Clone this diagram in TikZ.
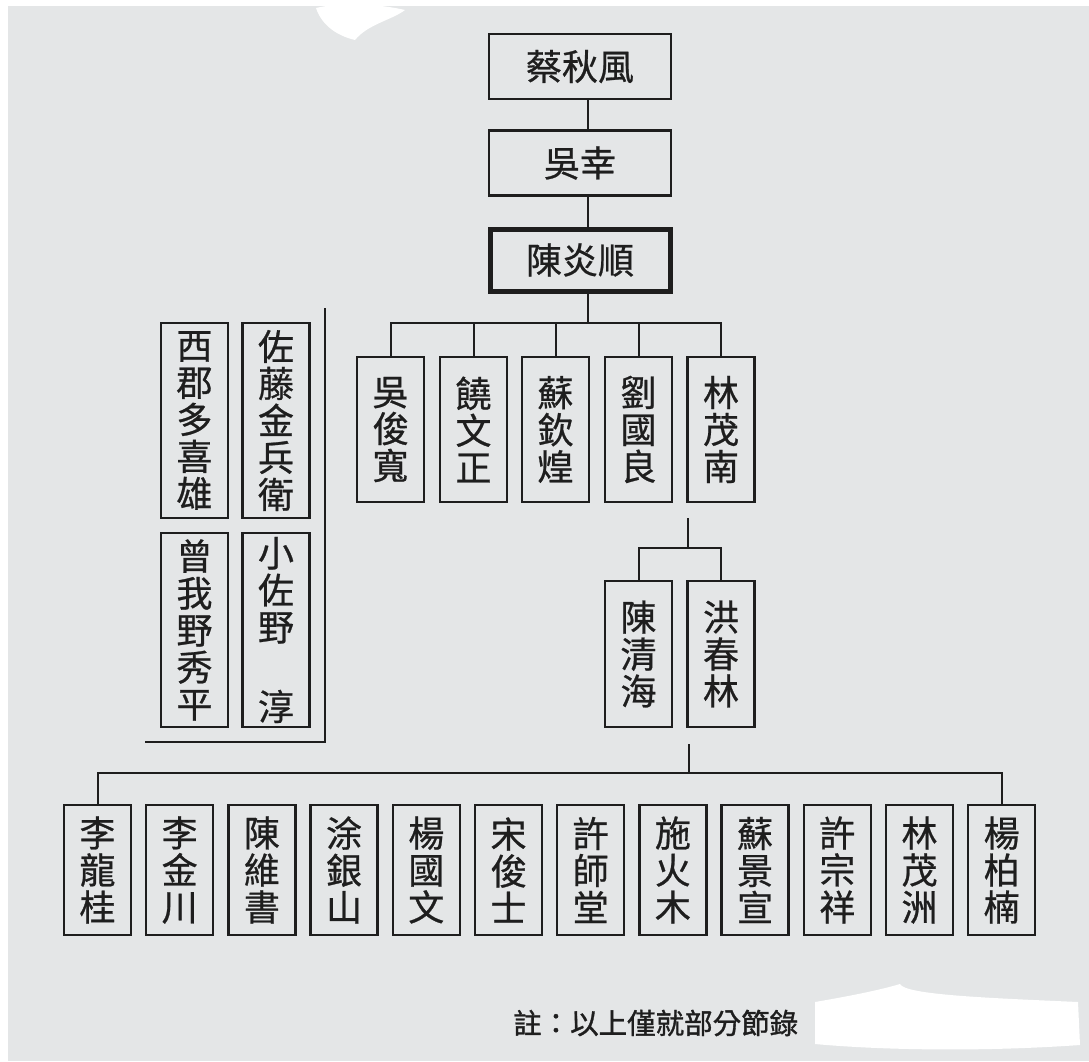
\documentclass[tikz,border=0pt]{standalone}
\usepackage{fontspec}
\newfontfamily\cjk[FakeBold=0.7]{Noto Sans CJK TC}
\newfontfamily\cjknote[FakeBold=1.2]{Noto Sans CJK TC}
\usetikzlibrary{calc}
\definecolor{bg}{RGB}{228,230,231}
\definecolor{ink}{RGB}{30,30,30}
\tikzset{
  box/.style={draw=ink, line width=2.4pt, inner sep=0pt, text=ink, align=center,
    font=\cjk\fontsize{36}{37}\selectfont},
  hbox/.style={box, minimum width=182pt, minimum height=65pt},
  vbox/.style={box, minimum width=67pt},
  link/.style={draw=ink, line width=2pt},
}
\begin{document}
\begin{tikzpicture}[x=1pt,y=-1pt]
\useasboundingbox (0,0) rectangle (1089,1061);
\fill[bg] (0,0) rectangle (1089,1061);
% paper blemishes
\fill[white] (0,0) rectangle (1089,6);
\fill[white] (0,0) rectangle (8,1061);
\fill[white] (316,8) .. controls (340,2) and (380,4) .. (405,10) .. controls (392,20) and (368,24) .. (355,40) .. controls (338,36) and (322,26) .. (316,8) -- cycle;
\fill[white] (815,1002) .. controls (850,996) and (880,990) .. (900,984) .. controls (905,995) and (990,998) .. (1078,1002) -- (1080,1045) .. controls (980,1052) and (880,1050) .. (815,1044) -- cycle;

% top chain
\node[hbox] (cqf) at (580,66.5) {蔡秋風};
\node[hbox] (wx) at (580,163) {吳幸};
\node[hbox, line width=5pt, minimum width=180pt, minimum height=62pt] (cys) at (580,260) {陳炎順};
\coordinate (xa) at (588,0);
\draw[link] (cqf.south -| xa) -- (wx.north -| xa);
\draw[link] (wx.south -| xa) -- (cys.north -| xa);

% second row
\node[vbox, minimum height=145pt] (w1) at (390.5,429.5) {吳\\俊\\寬};
\node[vbox, minimum height=145pt] (w2) at (473.5,429.5) {饒\\文\\正};
\node[vbox, minimum height=145pt] (w3) at (555.5,429.5) {蘇\\欽\\煌};
\node[vbox, minimum height=145pt] (w4) at (638.5,429.5) {劉\\國\\良};
\node[vbox, minimum height=145pt] (lmn) at (721,429.5) {林\\茂\\南};
\coordinate (j0) at (588,323);
\draw[link] (cys.south -| xa) -- (j0);
\draw[link] (w1.north) |- (j0) -| (lmn.north);
\draw[link] (w2.north) -- (w2.north |- j0);
\draw[link] (w3.north) -- (w3.north |- j0);
\draw[link] (w4.north) -- (w4.north |- j0);

% Japanese group
\node[vbox, minimum height=195pt] (jp1) at (194.5,420.5) {西\\郡\\多\\喜\\雄};
\node[vbox, minimum height=195pt] (jp2) at (276,420.5) {佐\\藤\\金\\兵\\衛};
\node[vbox, minimum height=194pt] (jp3) at (194.5,630) {曾\\我\\野\\秀\\平};
\node[vbox, minimum height=194pt] (jp4) at (276,630) {小\\佐\\野\\\strut\\淳};
\draw[link] (325,308) -- (325,742) -- (145,742);

% third row
\node[vbox, minimum height=146pt] (cqh) at (638.5,654) {陳\\清\\海};
\node[vbox, minimum height=146pt] (hcl) at (721,654) {洪\\春\\林};
\coordinate (j1) at (688,548);
\draw[link, shorten <=15pt] (lmn.south west -| j1) -- (j1);
\draw[link] (cqh.north) |- (j1) -| (hcl.north);

% bottom row
\foreach \a/\b/\c [count=\i from 0] in {李/龍/桂,李/金/川,陳/維/書,涂/銀/山,楊/國/文,宋/俊/士,許/師/堂,施/火/木,蘇/景/宣,許/宗/祥,林/茂/洲,楊/柏/楠}{
  \node[vbox, minimum height=130pt] (b\i) at (97.5+82.2*\i,870) {\a\\\b\\\c};
}
\coordinate (j2) at (689,773);
\draw[link, shorten <=16pt] (hcl.south -| j2) -- (j2);
\draw[link] (b0.north) |- (j2) -| (b11.north);

% footnote
\node[anchor=west, inner sep=0pt, text=ink, font=\cjknote\fontsize{28.5}{30}\selectfont] (note) at (513,1023) {註：以上僅就部分節錄};
\end{tikzpicture}
\end{document}
